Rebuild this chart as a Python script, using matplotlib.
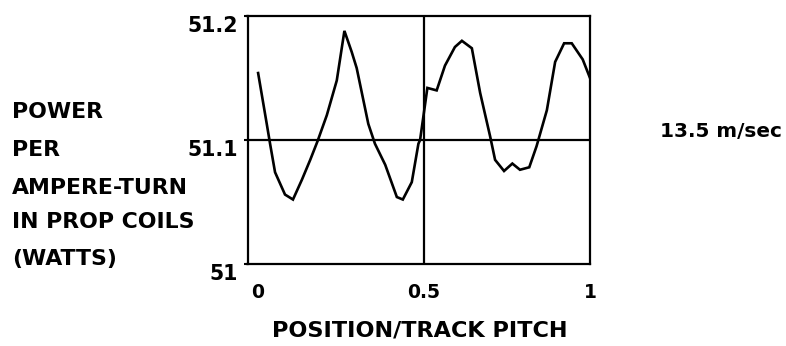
import matplotlib
matplotlib.use("Agg")
import matplotlib.pyplot as plt
from matplotlib.ticker import FixedLocator, FixedFormatter

# Position along the track (fraction of track pitch)
position = [0.0, 0.026, 0.036, 0.051, 0.081, 0.105, 0.132, 0.157, 0.179, 0.207,
            0.237, 0.260, 0.282, 0.297, 0.332, 0.352, 0.383, 0.418, 0.436, 0.463,
            0.483, 0.488, 0.510, 0.538, 0.563, 0.593, 0.614, 0.644, 0.669, 0.699,
            0.714, 0.741, 0.766, 0.789, 0.817, 0.839, 0.870, 0.895, 0.922, 0.945,
            0.978, 1.0]
# Power per ampere-turn in propulsion coils (watts)
power = [51.154, 51.113, 51.097, 51.074, 51.056, 51.052, 51.068, 51.084, 51.099, 51.120,
         51.148, 51.188, 51.171, 51.158, 51.113, 51.097, 51.080, 51.054, 51.052, 51.066,
         51.097, 51.100, 51.142, 51.140, 51.160, 51.175, 51.180, 51.174, 51.138, 51.103,
         51.084, 51.075, 51.081, 51.076, 51.078, 51.095, 51.124, 51.163, 51.178, 51.178,
         51.165, 51.150]

x_ticks = [0, 0.5, 1]
x_tick_labels = ["0", "0.5", "1"]
y_ticks = [51.0, 51.1, 51.2]
y_tick_labels = ["51", "51.1", "51.2"]
ylabel_lines = ["POWER", "PER", "AMPERE-TURN", "IN PROP COILS", "(WATTS)"]
xlabel = "POSITION/TRACK PITCH"
speed_note = "13.5 m/sec"

plt.rcParams["font.family"] = ["DejaVu Sans"]
plt.rcParams["font.weight"] = "bold"

W, H = 786, 346
fig = plt.figure(figsize=(W / 100, H / 100), dpi=100)
ax = fig.add_axes([247.5 / W, 1 - 264 / H, (590 - 247.5) / W, (264 - 16) / H])

ax.plot(position, power, color="black", lw=1.9, solid_joinstyle="miter")
ax.axhline(51.1, color="black", lw=1.6)
ax.axvline(0.5, color="black", lw=1.6)

ax.set_xlim(-0.032, 1.0)
ax.set_ylim(51.0, 51.2)

ax.xaxis.set_major_locator(FixedLocator(x_ticks))
ax.xaxis.set_major_formatter(FixedFormatter(x_tick_labels))
ax.yaxis.set_major_locator(FixedLocator(y_ticks))
ax.yaxis.set_major_formatter(FixedFormatter(y_tick_labels))
ax.tick_params(axis="x", length=0, pad=14, labelsize=13.5)
ax.tick_params(axis="y", length=3, width=1.5, pad=4, labelsize=14.8)
for lbl in ax.get_yticklabels():
    lbl.set_verticalalignment("top")
for s in ax.spines.values():
    s.set_linewidth(1.6)

# Multi-line y-axis caption on the left
line_centres = [112.5, 150.5, 187.5, 222.5, 258.5]
for text, yc in zip(ylabel_lines, line_centres):
    fig.text(12 / W, 1 - yc / H, text, ha="left", va="center", fontsize=15.8)

fig.text(420 / W, 1 - 331 / H, xlabel, ha="center", va="center", fontsize=16.1)
fig.text(660 / W, 1 - 131.5 / H, speed_note, ha="left", va="center", fontsize=14.4)

fig.savefig("out.png", dpi=100)
